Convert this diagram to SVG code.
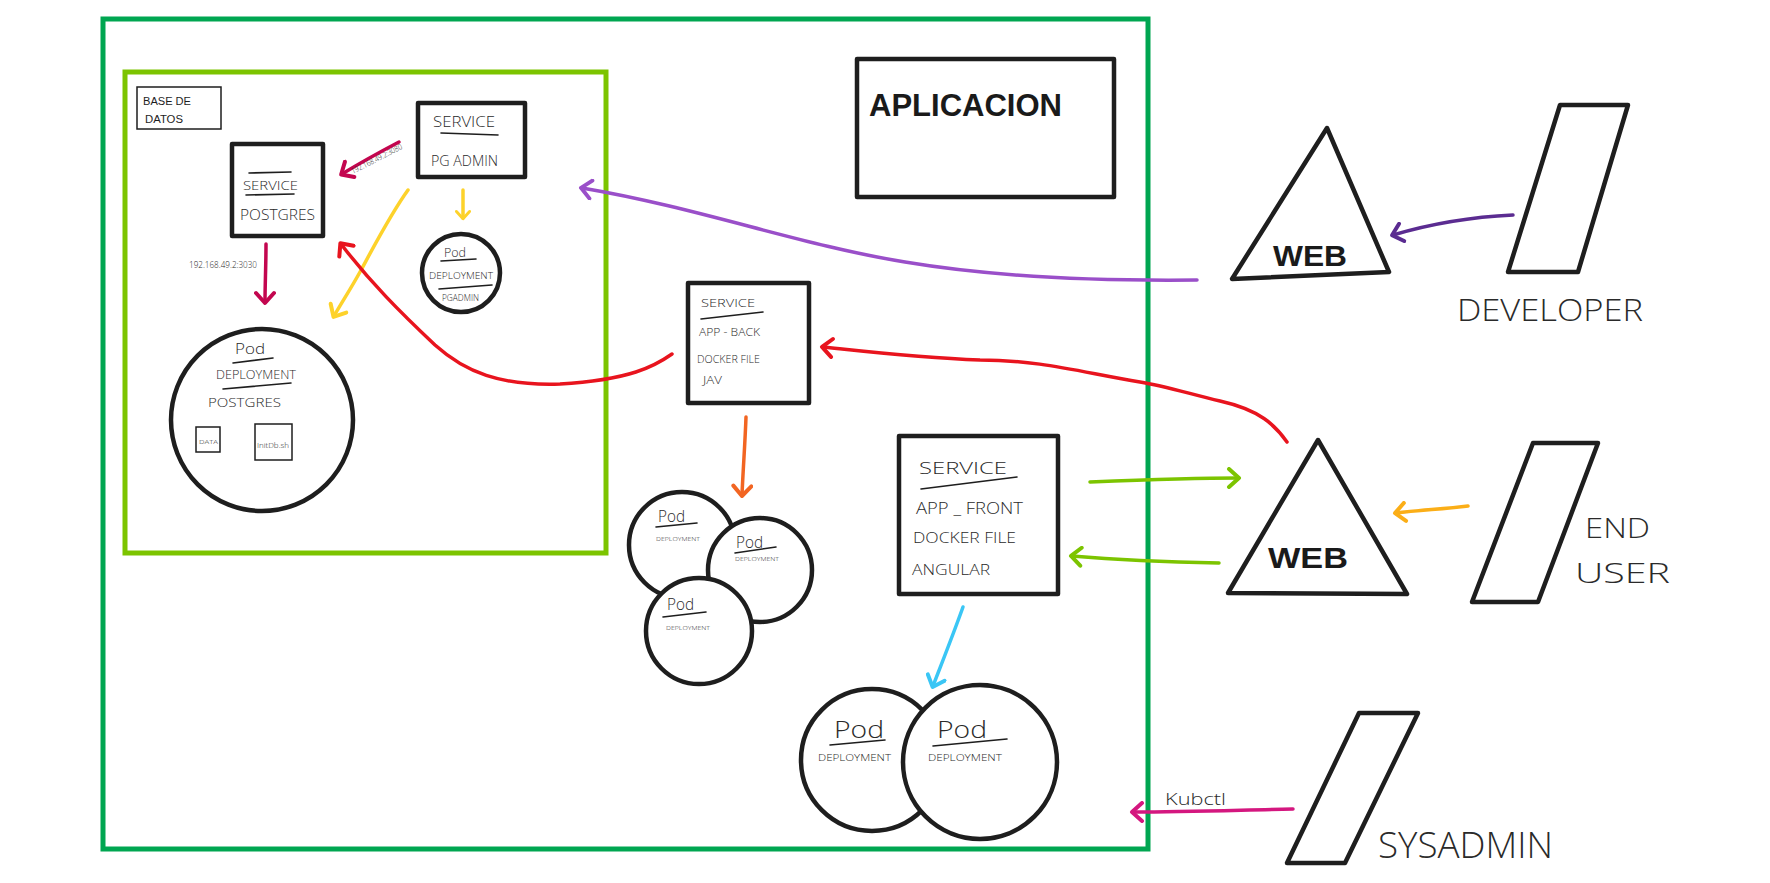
<svg xmlns="http://www.w3.org/2000/svg" width="1770" height="883" viewBox="0 0 1770 883">
  <style>
    .box { fill: #ffffff; stroke: #1e1e1e; stroke-width: 4.5; stroke-linejoin: round; }
    .thin { fill: #ffffff; stroke: #1e1e1e; stroke-width: 1.5; }
    .circ { fill: #ffffff; stroke: #1e1e1e; stroke-width: 4.5; }
    .rule { fill: none; stroke: #1e1e1e; stroke-width: 1.6; stroke-linecap: round; }
    .hand { font-family: "Liberation Sans", "DejaVu Sans", sans-serif; fill: #1e1e1e; }
    .light { font-family: "Open Sans", "Liberation Sans", sans-serif; font-weight: 300; fill: #2a2a2a; }
    .bold { font-family: "Liberation Sans", "DejaVu Sans", sans-serif; font-weight: bold; fill: #1a1a1a; }
    .conn { fill: none; stroke-width: 3.5; stroke-linecap: round; stroke-linejoin: round; }
  </style>
  <defs>
    <marker id="ah-red" viewBox="0 0 22 22" refX="12" refY="11" markerWidth="22" markerHeight="22" markerUnits="userSpaceOnUse" orient="auto"><path d="M3,2 L13,11 L3,20" fill="none" stroke="#e8141e" stroke-width="4" stroke-linecap="round" stroke-linejoin="round"/></marker>
    <marker id="ah-crimson" viewBox="0 0 22 22" refX="12" refY="11" markerWidth="22" markerHeight="22" markerUnits="userSpaceOnUse" orient="auto"><path d="M3,2 L13,11 L3,20" fill="none" stroke="#c3064f" stroke-width="4" stroke-linecap="round" stroke-linejoin="round"/></marker>
    <marker id="ah-yellow" viewBox="0 0 22 22" refX="12" refY="11" markerWidth="22" markerHeight="22" markerUnits="userSpaceOnUse" orient="auto"><path d="M3,2 L13,11 L3,20" fill="none" stroke="#fdd22b" stroke-width="4" stroke-linecap="round" stroke-linejoin="round"/></marker>
    <marker id="ah-yellow-s" viewBox="0 0 22 22" refX="12" refY="11" markerWidth="16" markerHeight="16" markerUnits="userSpaceOnUse" orient="auto"><path d="M3,2 L13,11 L3,20" fill="none" stroke="#fdd22b" stroke-width="4" stroke-linecap="round" stroke-linejoin="round"/></marker>
    <marker id="ah-orange" viewBox="0 0 22 22" refX="12" refY="11" markerWidth="22" markerHeight="22" markerUnits="userSpaceOnUse" orient="auto"><path d="M3,2 L13,11 L3,20" fill="none" stroke="#f26522" stroke-width="4" stroke-linecap="round" stroke-linejoin="round"/></marker>
    <marker id="ah-blue" viewBox="0 0 22 22" refX="12" refY="11" markerWidth="22" markerHeight="22" markerUnits="userSpaceOnUse" orient="auto"><path d="M3,2 L13,11 L3,20" fill="none" stroke="#3ac6f5" stroke-width="4" stroke-linecap="round" stroke-linejoin="round"/></marker>
    <marker id="ah-purple" viewBox="0 0 22 22" refX="12" refY="11" markerWidth="22" markerHeight="22" markerUnits="userSpaceOnUse" orient="auto"><path d="M3,2 L13,11 L3,20" fill="none" stroke="#9a4fc9" stroke-width="4" stroke-linecap="round" stroke-linejoin="round"/></marker>
    <marker id="ah-violet" viewBox="0 0 22 22" refX="12" refY="11" markerWidth="22" markerHeight="22" markerUnits="userSpaceOnUse" orient="auto"><path d="M3,2 L13,11 L3,20" fill="none" stroke="#5b2c91" stroke-width="4" stroke-linecap="round" stroke-linejoin="round"/></marker>
    <marker id="ah-green" viewBox="0 0 22 22" refX="12" refY="11" markerWidth="22" markerHeight="22" markerUnits="userSpaceOnUse" orient="auto"><path d="M3,2 L13,11 L3,20" fill="none" stroke="#7cc400" stroke-width="4" stroke-linecap="round" stroke-linejoin="round"/></marker>
    <marker id="ah-amber" viewBox="0 0 22 22" refX="12" refY="11" markerWidth="22" markerHeight="22" markerUnits="userSpaceOnUse" orient="auto"><path d="M3,2 L13,11 L3,20" fill="none" stroke="#fbae17" stroke-width="4" stroke-linecap="round" stroke-linejoin="round"/></marker>
    <marker id="ah-pink" viewBox="0 0 22 22" refX="12" refY="11" markerWidth="22" markerHeight="22" markerUnits="userSpaceOnUse" orient="auto"><path d="M3,2 L13,11 L3,20" fill="none" stroke="#d4177f" stroke-width="4" stroke-linecap="round" stroke-linejoin="round"/></marker>
  </defs>

  <rect width="1770" height="883" fill="#ffffff"/>

  <!-- cluster boundary -->
  <g id="cluster">
    <rect x="103" y="19" width="1045" height="830" fill="none" stroke="#00a651" stroke-width="5"/>
  </g>

  <!-- database namespace -->
  <g id="database-zone">
    <rect x="125" y="72" width="481" height="481" fill="none" stroke="#7cc400" stroke-width="5"/>
    <rect class="thin" x="137" y="87" width="84" height="42"/>
    <text class="hand" x="143" y="105" font-size="10" textLength="48" lengthAdjust="spacingAndGlyphs">BASE DE</text>
    <text class="hand" x="145" y="123" font-size="10" textLength="38" lengthAdjust="spacingAndGlyphs">DATOS</text>
  </g>

  <!-- application title -->
  <g id="aplicacion">
    <rect class="box" x="857" y="59" width="257" height="138"/>
    <text class="bold" x="869" y="116" font-size="32" textLength="193" lengthAdjust="spacingAndGlyphs">APLICACION</text>
  </g>

  <!-- connectors -->
  <g id="connectors">
    <path class="conn" stroke="#c3064f" d="M399,142 C380,152 360,163 342,174" marker-end="url(#ah-crimson)"/>
    <path class="conn" stroke="#c3064f" d="M266,244 C266,265 265,285 265,302" marker-end="url(#ah-crimson)"/>
    <path class="conn" stroke="#fdd22b" d="M408,190 C390,215 372,250 360,272 C350,290 342,302 334,316" marker-end="url(#ah-yellow)"/>
    <path class="conn" stroke="#fdd22b" d="M463,190 L463,218" marker-end="url(#ah-yellow-s)"/>
    <path class="conn" stroke="#e8141e" d="M672,354 C655,366 630,380 560,384 C500,386 465,372 435,345 C400,312 370,282 341,244" marker-end="url(#ah-red)"/>
    <path class="conn" stroke="#e8141e" d="M1287,442 C1275,425 1260,410 1220,401 C1190,394 1165,386 1140,382 C1080,372 1040,360 980,360 C920,358 870,352 823,347" marker-end="url(#ah-red)"/>
    <path class="conn" stroke="#9a4fc9" d="M1197,280 C1100,281 1000,278 905,262 C800,245 700,208 582,188" marker-end="url(#ah-purple)"/>
    <path class="conn" stroke="#5b2c91" d="M1513,215 C1470,217 1430,224 1393,235" marker-end="url(#ah-violet)"/>
    <path class="conn" stroke="#f26522" d="M746,417 C745,445 743,470 742,495" marker-end="url(#ah-orange)"/>
    <path class="conn" stroke="#3ac6f5" d="M963,607 C953,635 943,660 933,686" marker-end="url(#ah-blue)"/>
    <path class="conn" stroke="#7cc400" d="M1090,482 C1140,480 1190,478 1238,478" marker-end="url(#ah-green)"/>
    <path class="conn" stroke="#7cc400" d="M1219,563 C1170,562 1120,560 1072,556" marker-end="url(#ah-green)"/>
    <path class="conn" stroke="#fbae17" d="M1468,506 C1445,509 1420,510 1396,513" marker-end="url(#ah-amber)"/>
    <path class="conn" stroke="#d4177f" d="M1293,809 C1240,810 1190,812 1133,812" marker-end="url(#ah-pink)"/>
    <text class="light" x="345" y="163" font-size="8" transform="rotate(-27 372 152)" textLength="56" lengthAdjust="spacingAndGlyphs">192.168.49.2:3080</text>
    <text class="light" x="189" y="268" font-size="9" textLength="68" lengthAdjust="spacingAndGlyphs">192.168.49.2:3030</text>
    <text class="light" x="1165" y="805" font-size="17" textLength="61" lengthAdjust="spacingAndGlyphs">Kubctl</text>
  </g>

  <!-- postgres service -->
  <g id="svc-postgres">
    <rect class="box" x="232" y="144" width="91" height="92"/>
    <path class="rule" d="M249,173 L291,172"/>
    <text class="light" x="243" y="190" font-size="13" textLength="55" lengthAdjust="spacingAndGlyphs">SERVICE</text>
    <path class="rule" d="M246,195 L294,194"/>
    <text class="light" x="240" y="220" font-size="15" textLength="75" lengthAdjust="spacingAndGlyphs">POSTGRES</text>
  </g>

  <!-- pgadmin service -->
  <g id="svc-pgadmin">
    <rect class="box" x="418" y="103" width="107" height="74"/>
    <text class="light" x="433" y="127" font-size="14" textLength="62" lengthAdjust="spacingAndGlyphs">SERVICE</text>
    <path class="rule" d="M441,133 L498,135" stroke-width="2"/>
    <text class="light" x="431" y="166" font-size="15" textLength="67" lengthAdjust="spacingAndGlyphs">PG ADMIN</text>
  </g>

  <!-- pgadmin pod -->
  <g id="pod-pgadmin">
    <circle class="circ" cx="461" cy="273" r="39"/>
    <text class="light" x="444" y="257" font-size="13" textLength="22" lengthAdjust="spacingAndGlyphs">Pod</text>
    <path class="rule" d="M441,261 L476,259"/>
    <text class="light" x="429" y="279" font-size="9" textLength="64" lengthAdjust="spacingAndGlyphs">DEPLOYMENT</text>
    <path class="rule" d="M439,289 L492,285"/>
    <text class="light" x="442" y="301" font-size="9" textLength="37" lengthAdjust="spacingAndGlyphs">PGADMIN</text>
  </g>

  <!-- postgres pod -->
  <g id="pod-postgres">
    <circle class="circ" cx="262" cy="420" r="91"/>
    <text class="light" x="235" y="354" font-size="15" textLength="30" lengthAdjust="spacingAndGlyphs">Pod</text>
    <path class="rule" d="M233,363 L273,358"/>
    <text class="light" x="216" y="379" font-size="12" textLength="80" lengthAdjust="spacingAndGlyphs">DEPLOYMENT</text>
    <path class="rule" d="M223,389 L291,383"/>
    <text class="light" x="208" y="407" font-size="13" textLength="73" lengthAdjust="spacingAndGlyphs">POSTGRES</text>
    <rect class="thin" x="196" y="427" width="24" height="25"/>
    <text class="light" x="199" y="444" font-size="6" textLength="19" lengthAdjust="spacingAndGlyphs">DATA</text>
    <rect class="thin" x="255" y="424" width="37" height="36"/>
    <text class="light" x="257" y="448" font-size="7" textLength="32" lengthAdjust="spacingAndGlyphs">InitDb.sh</text>
  </g>

  <!-- backend service -->
  <g id="svc-app-back">
    <rect class="box" x="688" y="283" width="121" height="120"/>
    <text class="light" x="701" y="307" font-size="11" textLength="54" lengthAdjust="spacingAndGlyphs">SERVICE</text>
    <path class="rule" d="M701,319 L763,312"/>
    <text class="light" x="699" y="336" font-size="11" textLength="61" lengthAdjust="spacingAndGlyphs">APP - BACK</text>
    <text class="light" x="697" y="363" font-size="11" textLength="63" lengthAdjust="spacingAndGlyphs">DOCKER FILE</text>
    <text class="light" x="703" y="384" font-size="11" textLength="19" lengthAdjust="spacingAndGlyphs">JAV</text>
  </g>

  <!-- backend pods -->
  <g id="pods-app-back">
    <circle class="circ" cx="682" cy="545" r="53"/>
    <text class="light" x="658" y="522" font-size="16" textLength="27" lengthAdjust="spacingAndGlyphs">Pod</text>
    <path class="rule" d="M656,527 L697,523"/>
    <text class="light" x="656" y="541" font-size="6" textLength="44" lengthAdjust="spacingAndGlyphs">DEPLOYMENT</text>
    <circle class="circ" cx="760" cy="570" r="52"/>
    <text class="light" x="736" y="548" font-size="16" textLength="27" lengthAdjust="spacingAndGlyphs">Pod</text>
    <path class="rule" d="M735,553 L776,547"/>
    <text class="light" x="735" y="561" font-size="6" textLength="44" lengthAdjust="spacingAndGlyphs">DEPLOYMENT</text>
    <circle class="circ" cx="699" cy="631" r="53"/>
    <text class="light" x="667" y="610" font-size="16" textLength="27" lengthAdjust="spacingAndGlyphs">Pod</text>
    <path class="rule" d="M663,617 L706,612"/>
    <text class="light" x="666" y="630" font-size="6" textLength="44" lengthAdjust="spacingAndGlyphs">DEPLOYMENT</text>
  </g>

  <!-- frontend service -->
  <g id="svc-app-front">
    <rect class="box" x="899" y="436" width="159" height="158"/>
    <text class="light" x="919" y="474" font-size="17" textLength="88" lengthAdjust="spacingAndGlyphs">SERVICE</text>
    <path class="rule" d="M921,489 L1017,477"/>
    <text class="light" x="916" y="514" font-size="16" textLength="107" lengthAdjust="spacingAndGlyphs">APP _ FRONT</text>
    <text class="light" x="913" y="543" font-size="15" textLength="103" lengthAdjust="spacingAndGlyphs">DOCKER FILE</text>
    <text class="light" x="912" y="575" font-size="15" textLength="78" lengthAdjust="spacingAndGlyphs">ANGULAR</text>
  </g>

  <!-- frontend pods -->
  <g id="pods-app-front">
    <circle class="circ" cx="872" cy="760" r="71"/>
    <text class="light" x="834" y="738" font-size="24" textLength="50" lengthAdjust="spacingAndGlyphs">Pod</text>
    <path class="rule" d="M830,745 L885,740"/>
    <text class="light" x="818" y="761" font-size="9" textLength="73" lengthAdjust="spacingAndGlyphs">DEPLOYMENT</text>
    <circle class="circ" cx="980" cy="762" r="77"/>
    <text class="light" x="937" y="738" font-size="24" textLength="50" lengthAdjust="spacingAndGlyphs">Pod</text>
    <path class="rule" d="M933,746 L1007,739"/>
    <text class="light" x="928" y="761" font-size="9" textLength="74" lengthAdjust="spacingAndGlyphs">DEPLOYMENT</text>
  </g>

  <!-- web entry for developers -->
  <g id="web-dev">
    <path class="box" d="M1327,128 L1389,272 L1232,279 Z"/>
    <text class="bold" x="1310" y="266" font-size="30" text-anchor="middle" textLength="74" lengthAdjust="spacingAndGlyphs">WEB</text>
  </g>

  <!-- web entry for end users -->
  <g id="web-user">
    <path class="box" d="M1318,440 L1407,594 L1228,593 Z"/>
    <text class="bold" x="1308" y="568" font-size="30" text-anchor="middle" textLength="80" lengthAdjust="spacingAndGlyphs">WEB</text>
  </g>

  <!-- actors -->
  <g id="developer">
    <path class="box" d="M1560,105 L1628,105 L1578,272 L1508,272 Z"/>
    <text class="light" x="1457" y="321" font-size="32" textLength="186" lengthAdjust="spacingAndGlyphs">DEVELOPER</text>
  </g>

  <g id="end-user">
    <path class="box" d="M1533,443 L1598,443 L1538,602 L1472,602 Z"/>
    <text class="light" x="1585" y="538" font-size="28" textLength="65" lengthAdjust="spacingAndGlyphs">END</text>
    <text class="light" x="1575" y="583" font-size="28" textLength="95" lengthAdjust="spacingAndGlyphs">USER</text>
  </g>

  <g id="sysadmin">
    <path class="box" d="M1359,713 L1418,713 L1345,863 L1287,863 Z"/>
    <text class="light" x="1378" y="858" font-size="36" textLength="175" lengthAdjust="spacingAndGlyphs">SYSADMIN</text>
  </g>
</svg>
